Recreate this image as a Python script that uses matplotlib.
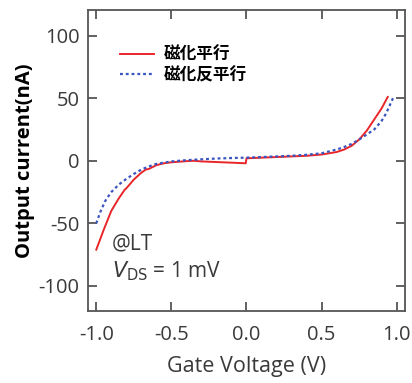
import matplotlib
matplotlib.use("Agg")
import matplotlib.pyplot as plt

plt.rcParams['font.family'] = ['Open Sans', 'DejaVu Sans']

# data
x_par = [-1.0, -0.95, -0.9, -0.89, -0.85, -0.81, -0.8, -0.75, -0.7, -0.67, -0.65, -0.6,
         -0.55, -0.5, -0.4, -0.35, -0.3, -0.2, -0.1, -0.005, 0.0, 0.1, 0.2, 0.3, 0.4,
         0.5, 0.6, 0.65, 0.7, 0.75, 0.8, 0.85, 0.9, 0.94]
y_par = [-71, -55, -40, -38, -30, -23, -22, -15, -9.5, -7, -6.5, -3.5,
         -2, -1.2, -0.3, 0, -0.5, -1, -1.5, -2, 2, 2.5, 3, 3.5, 4,
         5, 7, 9, 12, 17, 24, 33, 42, 51]
x_anti = [-1.0, -0.97, -0.94, -0.9, -0.85, -0.8, -0.75, -0.7, -0.65, -0.6, -0.5, -0.4,
          -0.3, -0.2, -0.1, 0.0, 0.1, 0.2, 0.3, 0.4, 0.5, 0.6, 0.65, 0.7, 0.75, 0.8,
          0.85, 0.9, 0.93, 0.96, 0.975]
y_anti = [-50, -40, -32, -25, -19, -14.5, -10.5, -7, -4.5, -2.5, -0.5, 0.5,
          1.2, 1.8, 2.2, 2.5, 3, 3.5, 4, 4.8, 6, 9, 11, 13.5, 17, 21,
          25, 32, 38, 46, 50]
label_par = "磁化平行"
label_anti = "磁化反平行"
xticks = [-1.0, -0.5, 0.0, 0.5, 1.0]
yticks = [-100, -50, 0, 50, 100]

fig = plt.figure(figsize=(4.12, 3.83), dpi=100)
ax = fig.add_axes([0.2136, 0.188, 0.7694, 0.786])

ax.plot(x_par, y_par, color='#e8262a', lw=1.4, label=label_par)
ax.plot(x_anti, y_anti, color='#3a55c0', lw=1.6, ls=(0, (1.3, 1.3)), label=label_anti)

ax.set_xlim(-1.055, 1.055)
ax.set_ylim(-120, 120.5)
ax.set_xticks(xticks)
ax.set_xticklabels([f"{v:.1f}" for v in xticks])
ax.set_yticks(yticks)
ax.set_yticklabels([str(v) for v in yticks])

spine_col = '#555555'
for s in ax.spines.values():
    s.set_color(spine_col)
    s.set_linewidth(1.3)
ax.tick_params(direction='in', length=6.5, width=1.3, color=spine_col,
               top=True, right=True, labelsize=14.5, labelcolor='#3a3a3a', pad=6)
ax.tick_params(axis='x', pad=10)

ax.set_xlabel("Gate Voltage (V)", fontsize=15.5, color='#3a3a3a', labelpad=8)
ax.set_ylabel("Output current(nA)", fontsize=14.5, fontweight='bold', color='black', labelpad=3)

leg_fp = {'family': ['Noto Sans CJK JP', 'DejaVu Sans'], 'weight': 'bold', 'size': 12}
leg = ax.legend(loc='upper left', bbox_to_anchor=(0.055, 0.93), frameon=False,
                prop=leg_fp, handlelength=2.0, handletextpad=0.6, labelspacing=0.12)

ax.text(0.075, 0.203, "@LT", transform=ax.transAxes, fontsize=15, color='#3a3a3a')
ax.text(0.075, 0.11, r"$V_{\mathrm{DS}}$ = 1 mV", transform=ax.transAxes, fontsize=15, color='#3a3a3a')

fig.savefig("out.png", dpi=100)
